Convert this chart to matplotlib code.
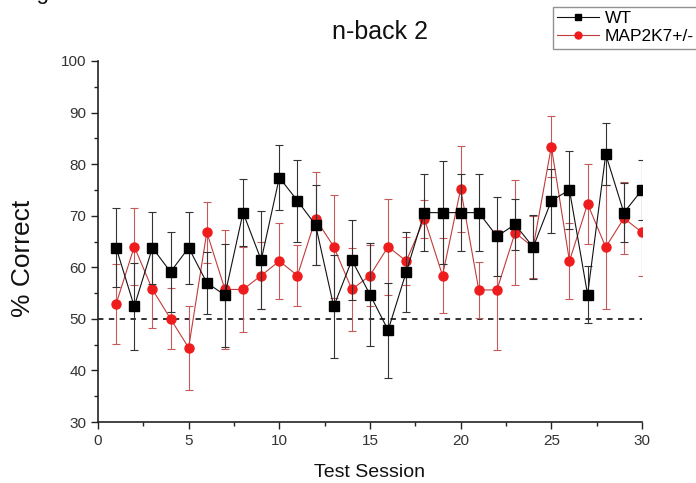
import matplotlib
matplotlib.use("Agg")
import matplotlib.pyplot as plt
from matplotlib.ticker import MultipleLocator
from matplotlib.lines import Line2D

plt.rcParams['font.family'] = ['Liberation Sans', 'DejaVu Sans']

sessions = list(range(1, 31))
wt_mean = [63.8, 52.4, 63.8, 59.1, 63.8, 57.0, 54.6, 70.6, 61.4, 77.4,
           72.9, 68.2, 52.4, 61.4, 54.7, 47.8, 59.1, 70.6, 70.6, 70.6,
           70.6, 66.0, 68.3, 63.9, 72.9, 75.0, 54.7, 81.9, 70.6, 75.0]
wt_err = [7.7, 8.5, 7.0, 7.7, 7.0, 6.0, 10.0, 6.5, 9.5, 6.3,
          7.9, 7.8, 9.9, 7.8, 10.0, 9.2, 7.7, 7.4, 10.0, 7.4,
          7.4, 7.7, 4.9, 6.2, 6.2, 7.5, 5.6, 6.0, 5.7, 5.9]
map_mean = [52.9, 64.0, 55.7, 50.0, 44.4, 66.8, 55.7, 55.7, 58.4, 61.2,
            58.4, 69.4, 64.0, 55.7, 58.4, 64.0, 61.2, 69.4, 58.4, 75.2,
            55.6, 55.6, 66.7, 63.9, 83.4, 61.2, 72.3, 63.9, 69.5, 66.8]
map_err = [7.8, 7.4, 7.5, 5.9, 8.1, 5.9, 11.6, 8.3, 6.5, 7.3,
           5.9, 9.0, 10.0, 8.1, 6.0, 9.3, 4.6, 3.7, 7.2, 8.3,
           5.5, 11.6, 10.2, 6.0, 5.9, 7.4, 7.8, 12.0, 7.0, 8.4]
series_labels = ['WT', 'MAP2K7+/-']
chance = 50

fig = plt.figure(figsize=(6.96, 4.83), dpi=100)
ax = fig.add_axes([98/696, 1-422/483, (642-98)/696, (422-61)/483])

ax.axhline(chance, color='#222222', linestyle=(0, (3, 3)), linewidth=1.3, zorder=1)

ax.errorbar(sessions, map_mean, yerr=map_err, color='#c23b3b', linewidth=0.8,
            elinewidth=0.8, ecolor='#c45a5a', capsize=3, capthick=0.8,
            marker='o', markersize=6.5, markerfacecolor='#ee1c1c',
            markeredgecolor='#ee1c1c', zorder=3)
ax.errorbar(sessions, wt_mean, yerr=wt_err, color='#111111', linewidth=0.8,
            elinewidth=0.8, ecolor='#333333', capsize=3, capthick=0.8,
            marker='s', markersize=6.5, markerfacecolor='black',
            markeredgecolor='black', zorder=4)

ax.set_xlim(0, 30)
ax.set_ylim(30, 100)
ax.xaxis.set_major_locator(MultipleLocator(5))
ax.xaxis.set_minor_locator(MultipleLocator(2.5))
ax.yaxis.set_major_locator(MultipleLocator(10))
ax.yaxis.set_minor_locator(MultipleLocator(5))
for s in ['top', 'right']:
    ax.spines[s].set_visible(False)
for s in ['left', 'bottom']:
    ax.spines[s].set_linewidth(1.2)
    ax.spines[s].set_color('#222222')
ax.tick_params(axis='both', which='major', length=5, width=1, labelsize=11,
               colors='#222222', labelcolor='#333333')
ax.tick_params(axis='both', which='minor', length=3, width=1, colors='#222222')

ax.set_xlabel('Test Session', fontsize=14, color='#111111', labelpad=12)
fig.text(23/696, 1-258/483, '% Correct', rotation=90, fontsize=19,
         color='#111111', ha='center', va='center')
fig.text(380/696, 1-32/483, 'n-back 2', fontsize=18, color='#111111',
         ha='center', va='center')
fig.text(18/696, 1 + 1.5/483, 'Figure 3', fontsize=16, color='#111111',
         ha='left', va='baseline')

handles = [
    Line2D([], [], color='#111111', linewidth=0.8, marker='s', markersize=4.5,
           markerfacecolor='black', markeredgecolor='black'),
    Line2D([], [], color='#c23b3b', linewidth=0.8, marker='o', markersize=5,
           markerfacecolor='#ee1c1c', markeredgecolor='#ee1c1c'),
]
leg = fig.legend(handles, series_labels, loc='upper left',
                 bbox_to_anchor=(553/696, 1-7/483), fontsize=12.5,
                 frameon=True, fancybox=False, edgecolor='#777777',
                 handlelength=2.4, borderpad=0.25, labelspacing=0.15,
                 handletextpad=0.35, borderaxespad=0)
leg.get_frame().set_linewidth(1.0)

fig.savefig('out.png', dpi=100)
